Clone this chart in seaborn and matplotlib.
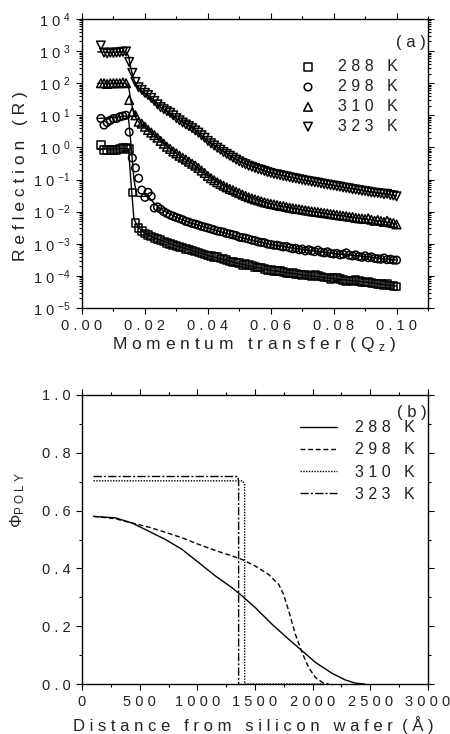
import numpy as np
import pandas as pd
import seaborn as sns
import matplotlib
matplotlib.use("Agg")
import matplotlib.pyplot as plt
from matplotlib.ticker import FixedLocator, MultipleLocator, NullFormatter

# ---------------- data (panel a) ----------------
q = [0.006, 0.007, 0.008, 0.009, 0.010, 0.011, 0.012, 0.013, 0.014, 0.015,
     0.016, 0.017, 0.018, 0.019, 0.020, 0.021, 0.022, 0.023, 0.024, 0.025,
     0.026, 0.027, 0.028, 0.029, 0.030, 0.031, 0.032, 0.033, 0.034, 0.035,
     0.036, 0.037, 0.038, 0.039, 0.040, 0.041, 0.042, 0.043, 0.044, 0.045,
     0.046, 0.047, 0.048, 0.049, 0.050, 0.051, 0.052, 0.053, 0.054, 0.055,
     0.056, 0.057, 0.058, 0.059, 0.060, 0.061, 0.062, 0.063, 0.064, 0.065,
     0.066, 0.067, 0.068, 0.069, 0.070, 0.071, 0.072, 0.073, 0.074, 0.075,
     0.076, 0.077, 0.078, 0.079, 0.080, 0.081, 0.082, 0.083, 0.084, 0.085,
     0.086, 0.087, 0.088, 0.089, 0.090, 0.091, 0.092, 0.093, 0.094, 0.095,
     0.096, 0.097, 0.098, 0.099, 0.100]

R_288 = [1.2, 0.85, 0.85, 0.85, 0.85, 0.85, 0.88, 0.95, 1.0, 0.9,
         0.04, 0.0044, 0.0031, 0.0025, 0.0021, 0.0019, 0.0017, 0.0015, 0.0014, 0.0013,
         0.00118, 0.00108, 0.00099, 0.00092, 0.00086, 0.00081, 0.00077, 0.00070, 0.00066, 0.00062,
         0.00057, 0.00053, 0.00050, 0.00046, 0.00043, 0.00041, 0.00039, 0.00038, 0.00035, 0.00033,
         0.00031, 0.00028, 0.00027, 0.00026, 0.00025, 0.00022, 0.00023, 0.00022, 0.00021, 0.00019,
         0.00018, 0.00018, 0.000165, 0.000155, 0.00015, 0.000145, 0.00014, 0.000145, 0.00013, 0.000125,
         0.00012, 0.000125, 0.000115, 0.00011, 0.000108, 0.00011, 0.000102, 0.000098, 0.000105, 0.0001,
         0.000095, 0.00009, 0.000088, 0.00008, 0.000085, 0.000088, 0.00008, 0.000076, 0.00007, 0.000072,
         0.000068, 0.000075, 0.00007, 0.000064, 0.000062, 0.000065, 0.00006, 0.000058, 0.000056, 0.000055,
         0.000052, 0.000055, 0.00005, 0.000049, 0.000047]

R_298 = [8, 5, 6, 7, 8, 8, 9, 9.5, 10, 3,
         0.47, 0.23, 0.11, 0.047, 0.028, 0.04, 0.03, 0.013, 0.014, 0.012,
         0.01, 0.0088, 0.0079, 0.0072, 0.0066, 0.0061, 0.0056, 0.0050, 0.0047, 0.0043,
         0.0041, 0.0038, 0.0035, 0.0033, 0.0031, 0.0029, 0.0027, 0.0025, 0.0024, 0.0023,
         0.0021, 0.0020, 0.0019, 0.0018, 0.0016, 0.00155, 0.0015, 0.0014, 0.0013, 0.00125,
         0.00115, 0.0011, 0.00108, 0.00098, 0.00095, 0.0009, 0.0009, 0.00085, 0.0008, 0.00082,
         0.00075, 0.0007, 0.00072, 0.00065, 0.00068, 0.0006, 0.00065, 0.0006, 0.00057, 0.00063,
         0.00055, 0.00052, 0.00056, 0.0005, 0.00048, 0.0005, 0.00045, 0.00047, 0.00052, 0.00044,
         0.00042, 0.00045, 0.0004, 0.00038, 0.00042, 0.00037, 0.00039, 0.00035, 0.00034, 0.00033,
         0.00036, 0.00032, 0.00033, 0.00031, 0.00031]

R_310 = [100, 100, 95, 100, 100, 100, 100, 105, 100, 30,
         12.6, 10, 6.3, 5.5, 4.4, 3.5, 2.9, 2.4, 2.0, 1.6,
         1.3, 1.05, 0.9, 0.75, 0.65, 0.55, 0.48, 0.42, 0.36, 0.31,
         0.27, 0.23, 0.19, 0.16, 0.13, 0.11, 0.095, 0.082, 0.072, 0.064,
         0.057, 0.051, 0.047, 0.042, 0.038, 0.034, 0.031, 0.028, 0.026, 0.024,
         0.0225, 0.021, 0.0195, 0.0185, 0.0175, 0.0168, 0.016, 0.015, 0.0148, 0.014,
         0.0133, 0.0128, 0.0122, 0.012, 0.0115, 0.011, 0.0107, 0.0102, 0.0099, 0.0097,
         0.0093, 0.009, 0.0088, 0.0084, 0.0082, 0.0079, 0.0076, 0.0074, 0.0072, 0.0069,
         0.0068, 0.0064, 0.0062, 0.0061, 0.0059, 0.0062, 0.0056, 0.0052, 0.0055, 0.0051,
         0.0048, 0.0052, 0.0046, 0.0044, 0.0040]

R_323 = [1500, 900, 850, 900, 880, 900, 920, 950, 980, 460,
         210, 110, 75, 62, 50, 43, 35, 28, 22, 18,
         15.5, 13.5, 12, 10, 8.2, 7, 6, 5.2, 4.6, 4.0,
         3.4, 2.9, 2.4, 2.0, 1.6, 1.35, 1.15, 0.98, 0.85, 0.72,
         0.63, 0.55, 0.48, 0.42, 0.37, 0.33, 0.3, 0.27, 0.25, 0.23,
         0.21, 0.2, 0.185, 0.17, 0.16, 0.15, 0.145, 0.138, 0.13, 0.125,
         0.118, 0.112, 0.108, 0.102, 0.098, 0.093, 0.09, 0.086, 0.083, 0.08,
         0.076, 0.073, 0.07, 0.067, 0.065, 0.062, 0.06, 0.057, 0.055, 0.053,
         0.05, 0.049, 0.047, 0.045, 0.044, 0.042, 0.04, 0.039, 0.038, 0.037,
         0.035, 0.036, 0.033, 0.032, 0.03]

q_fit = [0.005, 0.010, 0.014, 0.0148, 0.0155, 0.0165, 0.0175, 0.019, 0.021, 0.023,
         0.025, 0.030, 0.035, 0.040, 0.050, 0.060, 0.070, 0.080, 0.090, 0.100]
fit_288 = [0.9, 0.9, 0.92, 0.9, 0.1, 0.006, 0.0038, 0.0025, 0.0019, 0.0015,
           0.0013, 0.00086, 0.00062, 0.00043, 0.00024, 0.00015, 0.000108, 0.000082, 0.000064, 0.000048]
fit_298 = [8, 8.5, 9.5, 8, 1.5, 0.1, 0.03, 0.03, 0.03, 0.018,
           0.012, 0.0066, 0.0043, 0.0031, 0.0016, 0.00095, 0.00067, 0.0005, 0.0004, 0.00031]
fit_310 = [100, 100, 100, 80, 30, 11, 7, 5, 3.5, 2.4,
           1.6, 0.65, 0.31, 0.13, 0.038, 0.0175, 0.0115, 0.0082, 0.006, 0.0042]
fit_323 = [950, 900, 950, 700, 300, 130, 80, 55, 40, 28,
           18, 8.2, 4.4, 1.6, 0.37, 0.16, 0.098, 0.065, 0.044, 0.031]

temps = ["288", "298", "310", "323"]
labels = ["2 8 8   K", "2 9 8   K", "3 1 0   K", "3 2 3   K"]
markers = ["s", "o", "^", "v"]

yticks_a = [1e-5, 1e-4, 1e-3, 1e-2, 1e-1, 1e0, 1e1, 1e2, 1e3, 1e4]
yticklabels_a = ["1 0 $^{\\mathregular{-5}}$", "1 0 $^{\\mathregular{-4}}$", "1 0 $^{\\mathregular{-3}}$",
                 "1 0 $^{\\mathregular{-2}}$", "1 0 $^{\\mathregular{-1}}$", "1 0 $^{\\mathregular{0}}$",
                 "1 0 $^{\\mathregular{1}}$", "1 0 $^{\\mathregular{2}}$", "1 0 $^{\\mathregular{3}}$",
                 "1 0 $^{\\mathregular{4}}$"]
xticks_a = [0.00, 0.02, 0.04, 0.06, 0.08, 0.10]
xticklabels_a = ["0 . 0 0", "0 . 0 2", "0 . 0 4", "0 . 0 6", "0 . 0 8", "0 . 1 0"]

# ---------------- data (panel b) ----------------
z_288 = [100, 289, 434, 578, 723, 867, 1012, 1156, 1301, 1387, 1503, 1647, 1792, 1908,
         2023, 2168, 2283, 2370, 2450]
phi_288 = [0.580, 0.575, 0.557, 0.529, 0.500, 0.466, 0.420, 0.374, 0.333, 0.305, 0.264,
           0.207, 0.155, 0.115, 0.075, 0.037, 0.014, 0.003, 0.0]
z_298 = [100, 289, 434, 578, 723, 867, 1012, 1156, 1301, 1387, 1503, 1618, 1705, 1748,
         1792, 1850, 1908, 1965, 2023, 2081, 2139]
phi_298 = [0.58, 0.572, 0.557, 0.543, 0.525, 0.506, 0.483, 0.462, 0.443, 0.431, 0.408,
           0.379, 0.345, 0.31, 0.253, 0.172, 0.109, 0.057, 0.023, 0.006, 0.0]
z_310 = [100, 1393, 1410, 1410, 2100]
phi_310 = [0.703, 0.703, 0.69, 0.0, 0.0]
z_323 = [100, 1352, 1358, 1358]
phi_323 = [0.718, 0.718, 0.70, 0.0]

xticks_b = [0, 500, 1000, 1500, 2000, 2500, 3000]
xticklabels_b = ["0", "5 0 0", "1 0 0 0", "1 5 0 0", "2 0 0 0", "2 5 0 0", "3 0 0 0"]
yticks_b = [0.0, 0.2, 0.4, 0.6, 0.8, 1.0]
yticklabels_b = ["0 . 0", "0 . 2", "0 . 4", "0 . 6", "0 . 8", "1 . 0"]

# ---------------- style ----------------
sns.set_style("ticks")
plt.rcParams["font.family"] = ["Liberation Sans", "DejaVu Sans"]
plt.rcParams["mathtext.fontset"] = "custom"
plt.rcParams["mathtext.rm"] = "Liberation Sans"
plt.rcParams["mathtext.it"] = "Liberation Sans"
TXT = "#222222"

W, H = 450, 734
fig = plt.figure(figsize=(W / 100, H / 100), dpi=100)
axA = fig.add_axes([82 / W, 1 - 308 / H, 346 / W, 289 / H])
axB = fig.add_axes([82 / W, 1 - 684 / H, 346 / W, 289 / H])

def style_axis(ax):
    for s in ax.spines.values():
        s.set_visible(True)
        s.set_color("black")
        s.set_linewidth(1.0)
    ax.tick_params(which="both", direction="out", top=True, right=True,
                   labeltop=False, labelright=False, colors="black",
                   labelcolor=TXT, labelsize=10.5, width=0.8)
    ax.tick_params(which="major", length=4, pad=4)
    ax.tick_params(which="minor", length=2.5)

# ---------------- panel a ----------------
df_pts = pd.DataFrame({
    "q": q * 4,
    "R": R_288 + R_298 + R_310 + R_323,
    "T": sum([[t] * len(q) for t in temps], []),
})
df_fit = pd.DataFrame({
    "q": q_fit * 4,
    "R": fit_288 + fit_298 + fit_310 + fit_323,
    "T": sum([[t] * len(q_fit) for t in temps], []),
})
for t in temps:
    sub = df_fit[df_fit["T"] == t]
    sns.lineplot(data=sub, x="q", y="R", color="black", lw=1.0, ax=axA,
                 sort=False, estimator=None, legend=False)
for t, m, lab in zip(temps, markers, labels):
    sub = df_pts[df_pts["T"] == t]
    sns.scatterplot(data=sub, x="q", y="R", marker=m, s=38 if m in "^v" else 30,
                    facecolors="none", edgecolor="black", linewidth=1.1,
                    ax=axA, label=lab, zorder=3)

axA.set_yscale("log")
axA.set_xlim(0, 0.11)
axA.set_ylim(1e-5, 1e4)
axA.yaxis.set_major_locator(FixedLocator(yticks_a))
axA.set_yticklabels(yticklabels_a)
minor_a = [m * 10.0 ** e for e in range(-5, 4) for m in range(2, 10)]
axA.yaxis.set_minor_locator(FixedLocator(minor_a))
axA.yaxis.set_minor_formatter(NullFormatter())
axA.xaxis.set_major_locator(FixedLocator(xticks_a))
axA.set_xticklabels(xticklabels_a)
axA.xaxis.set_minor_locator(MultipleLocator(0.01))
style_axis(axA)

axA.set_xlabel("M o m e n t u m   t r a n s f e r  ( Q $_{\\mathregular{z}}$ )",
               fontsize=12.5, color=TXT)
axA.xaxis.set_label_coords(0.497, -0.128)
axA.xaxis.label.set_va("center")
axA.set_ylabel("R e f l e c t i o n   ( R )", fontsize=12.5, color=TXT)
axA.yaxis.set_label_coords(-0.179, 0.457)
axA.yaxis.label.set_va("center")

legA = axA.legend(loc="upper left", bbox_to_anchor=(0.63, 0.86), frameon=False,
                  handlelength=1.0, handletextpad=1.4, labelspacing=0.3,
                  fontsize=11.5, borderaxespad=0, borderpad=0)
for txt in legA.get_texts():
    txt.set_color(TXT)
axA.text(0.995, 0.918, "( a )", transform=axA.transAxes, ha="right", va="center",
         fontsize=12, color=TXT)

# ---------------- panel b ----------------
styles_b = ["-", (0, (3.5, 2)), (0, (1, 1)), (0, (6, 1.5, 1.5, 1.5))]
zs = [z_288, z_298, z_310, z_323]
phis = [phi_288, phi_298, phi_310, phi_323]
for z, p, ls, lab in zip(zs, phis, styles_b, labels):
    d = pd.DataFrame({"z": z, "phi": p})
    sns.lineplot(data=d, x="z", y="phi", color="black", lw=1.0, linestyle=ls,
                 sort=False, estimator=None, ax=axB, label=lab)

axB.set_xlim(0, 3000)
axB.set_ylim(0, 1.0)
axB.xaxis.set_major_locator(FixedLocator(xticks_b))
axB.set_xticklabels(xticklabels_b)
axB.xaxis.set_minor_locator(MultipleLocator(250))
axB.yaxis.set_major_locator(FixedLocator(yticks_b))
axB.set_yticklabels(yticklabels_b)
axB.yaxis.set_minor_locator(MultipleLocator(0.1))
style_axis(axB)

axB.set_xlabel("D i s t a n c e   f r o m   s i l i c o n   w a f e r  ( Å )",
               fontsize=12, color=TXT)
axB.xaxis.set_label_coords(0.494, -0.142)
axB.xaxis.label.set_va("center")
axB.set_ylabel("Φ$_{\\mathregular{P\\ O\\ L\\ Y}}$", fontsize=12, color=TXT)
axB.yaxis.set_label_coords(-0.185, 0.637)
axB.yaxis.label.set_va("center")

legB = axB.legend(loc="upper left", bbox_to_anchor=(0.63, 0.913), frameon=False,
                  handlelength=2.3, handletextpad=1.15, labelspacing=0.45,
                  fontsize=11.5, borderaxespad=0, borderpad=0)
for txt in legB.get_texts():
    txt.set_color(TXT)
axB.text(0.995, 0.94, "( b )", transform=axB.transAxes, ha="right", va="center",
         fontsize=12, color=TXT)

fig.savefig("out.png", dpi=100)
